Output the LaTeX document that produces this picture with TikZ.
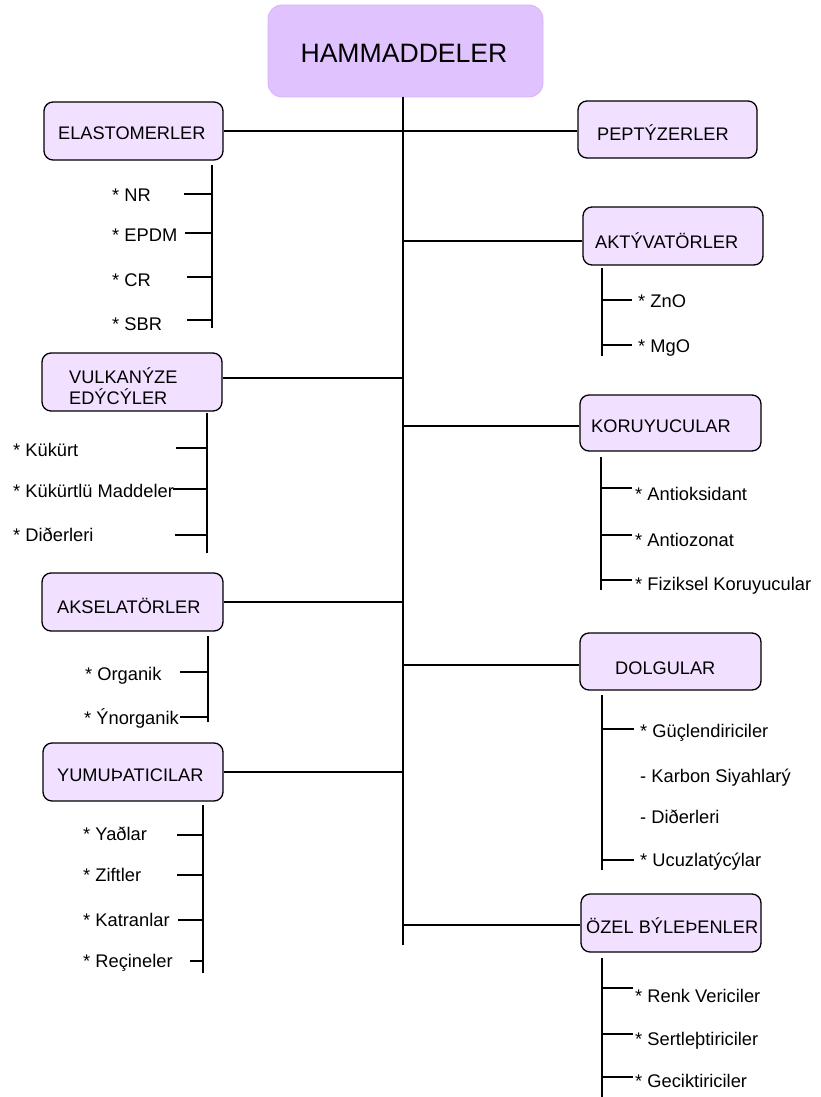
\documentclass[tikz,border=0pt]{standalone}
\usepackage{fontspec}
\setmainfont{Liberation Sans}
\definecolor{titlefill}{RGB}{224,194,255}
\definecolor{titleedge}{RGB}{214,180,246}
\definecolor{boxfill}{RGB}{241,224,255}
\begin{document}
\begin{tikzpicture}[x=1pt,y=-1pt,
  box/.style={draw=black, line width=1.3pt, fill=boxfill, rounded corners=9pt, inner sep=0pt},
  titlebox/.style={draw=titleedge, line width=0.8pt, fill=titlefill, rounded corners=14pt, inner sep=0pt},
  lbl/.style={inner sep=0pt, anchor=base west, font=\fontsize{18.2}{21}\selectfont},
  item/.style={inner sep=0pt, anchor=base west, font=\fontsize{18.3}{21}\selectfont},
  conn/.style={line width=1.4pt, black}]
\useasboundingbox (0,0) rectangle (820,1097);

% title
\node[titlebox, minimum width=275pt, minimum height=92pt] (title) at (405.5,51) {};
\node[inner sep=0pt, anchor=base, font=\fontsize{26.6}{30}\selectfont] (titletxt) at (404,63) {HAMMADDELER};

% main spine
\coordinate (mtop) at (403,97);
\coordinate (mbot) at (403,945);
\draw[conn] (mtop) -- (mbot);

% left boxes
\node[box, minimum width=179pt, minimum height=58pt] (elast) at (133.5,131) {};
\node[lbl] (elastl) at (58,139.5) {ELASTOMERLER};
\node[box, minimum width=180pt, minimum height=58pt] (vulk) at (132,382) {};
\node[lbl] (vulkl1) at (69,383) {VULKANÝZE};
\node[lbl] (vulkl2) at (69,404) {EDÝCÝLER};
\node[box, minimum width=181pt, minimum height=58pt] (aksel) at (132.5,602) {};
\node[lbl] (aksell) at (57,613) {AKSELATÖRLER};
\node[box, minimum width=180pt, minimum height=58pt] (yumu) at (133,772) {};
\node[lbl] (yumul) at (57,781) {YUMUÞATICILAR};

% right boxes
\node[box, minimum width=179pt, minimum height=57pt] (pept) at (667.5,129.5) {};
\node[lbl] (peptl) at (597,141) {PEPTÝZERLER};
\node[box, minimum width=180pt, minimum height=58pt] (aktiv) at (673,236) {};
\node[lbl] (aktivl) at (595,248) {AKTÝVATÖRLER};
\node[box, minimum width=181pt, minimum height=56pt] (koru) at (670.5,423) {};
\node[lbl] (korul) at (591,432) {KORUYUCULAR};
\node[box, minimum width=181pt, minimum height=57pt] (dolg) at (670.5,661.5) {};
\node[lbl] (dolgl) at (615,674) {DOLGULAR};
\node[box, minimum width=180pt, minimum height=58pt] (ozel) at (671,923) {};
\node[lbl] (ozell) at (586,933) {ÖZEL BÝLEÞENLER};

% branches from spine
\draw[conn] (elast.east) -- (elast.east -| pept.west);
\draw[conn] (vulk.east |- 0,378) -- (mtop |- 0,378);
\draw[conn] (aksel.east) -- (aksel.east -| mtop);
\draw[conn] (yumu.east) -- (yumu.east -| mtop);
\draw[conn] (mtop |- 0,241) -- (aktiv.west |- 0,241);
\draw[conn] (mtop |- 0,426) -- (koru.west |- 0,426);
\draw[conn] (mtop |- 0,665) -- (dolg.west |- 0,665);
\draw[conn] (mtop |- 0,925) -- (ozel.west |- 0,925);

% ELASTOMERLER list
\coordinate (ea) at (212,165); \coordinate (eb) at (212,328);
\draw[conn] (ea) -- (eb);
\node[item] (nr) at (112,201.5) {* NR};
\node[item] (epdm) at (112,241.5) {* EPDM};
\node[item] (cr) at (112,286.5) {* CR};
\node[item] (sbr) at (112,330) {* SBR};
\coordinate (t1) at (184,194); \draw[conn] (t1) -- (t1 -| ea);
\coordinate (t2) at (185,233); \draw[conn] (t2) -- (t2 -| ea);
\coordinate (t3) at (187,277); \draw[conn] (t3) -- (t3 -| ea);
\coordinate (t4) at (187,320); \draw[conn] (t4) -- (t4 -| ea);

% VULKANIZE list
\coordinate (va) at (207,413); \coordinate (vb) at (207,553);
\draw[conn] (va) -- (vb);
\node[item] (kuk) at (13,456) {* Kükürt};
\node[item] (kukm) at (13,497) {* Kükürtlü Maddeler};
\node[item] (vdig) at (13,541.5) {* Diðerleri};
\coordinate (t5) at (176,448); \draw[conn] (t5) -- (t5 -| va);
\coordinate (t6) at (173,489); \draw[conn] (t6) -- (t6 -| va);
\coordinate (t7) at (175,535); \draw[conn] (t7) -- (t7 -| va);

% AKSELATORLER list
\coordinate (aa) at (208,636); \coordinate (ab) at (208,722);
\draw[conn] (aa) -- (ab);
\node[item] (org) at (85,680) {* Organik};
\node[item] (inorg) at (84,724.5) {* Ýnorganik};
\coordinate (t8) at (180,672); \draw[conn] (t8) -- (t8 -| aa);
\coordinate (t9) at (180,717); \draw[conn] (t9) -- (t9 -| aa);

% YUMUSATICILAR list
\coordinate (ya) at (203,805); \coordinate (yb) at (203,973);
\draw[conn] (ya) -- (yb);
\node[item] (yag) at (83,840) {* Yaðlar};
\node[item] (zif) at (83,881.5) {* Ziftler};
\node[item] (kat) at (83,926.5) {* Katranlar};
\node[item] (rec) at (83,967) {* Reçineler};
\coordinate (t10) at (177,835); \draw[conn] (t10) -- (t10 -| ya);
\coordinate (t11) at (177,875); \draw[conn] (t11) -- (t11 -| ya);
\coordinate (t12) at (178,920); \draw[conn] (t12) -- (t12 -| ya);
\coordinate (t13) at (190,961); \draw[conn] (t13) -- (t13 -| ya);

% AKTIVATORLER list
\coordinate (ka) at (602,268); \coordinate (kb) at (602,356);
\draw[conn] (ka) -- (kb);
\node[item] (zno) at (638,307) {* ZnO};
\node[item] (mgo) at (638,352) {* MgO};
\coordinate (t14) at (632,300); \draw[conn] (ka |- t14) -- (t14);
\coordinate (t15) at (632,345); \draw[conn] (ka |- t15) -- (t15);

% KORUYUCULAR list
\coordinate (ra) at (601,457); \coordinate (rb) at (601,590);
\draw[conn] (ra) -- (rb);
\node[item] (aox) at (635,500) {* Antioksidant};
\node[item] (aoz) at (635,546) {* Antiozonat};
\node[item] (fiz) at (635,590) {* Fiziksel Koruyucular};
\coordinate (t16) at (632,488); \draw[conn] (ra |- t16) -- (t16);
\coordinate (t17) at (632,535); \draw[conn] (ra |- t17) -- (t17);
\coordinate (t18) at (632,580); \draw[conn] (ra |- t18) -- (t18);

% DOLGULAR list
\coordinate (da) at (602,695); \coordinate (db) at (602,870);
\draw[conn] (da) -- (db);
\node[item] (guc) at (640,737) {* Güçlendiriciler};
\node[item] (karb) at (640,782) {- Karbon Siyahlarý};
\node[item] (ddig) at (640,823) {- Diðerleri};
\node[item] (ucuz) at (640,866.5) {* Ucuzlatýcýlar};
\coordinate (t19) at (634,729); \draw[conn] (da |- t19) -- (t19);
\coordinate (t20) at (634,860); \draw[conn] (da |- t20) -- (t20);

% OZEL BILESENLER list
\coordinate (oa) at (602,958); \coordinate (ob) at (602,1097);
\draw[conn] (oa) -- (ob);
\node[item] (renk) at (635,1002.5) {* Renk Vericiler};
\node[item] (sert) at (635,1045) {* Sertleþtiriciler};
\node[item] (gec) at (635,1087) {* Geciktiriciler};
\coordinate (t21) at (633,988); \draw[conn] (oa |- t21) -- (t21);
\coordinate (t22) at (633,1034); \draw[conn] (oa |- t22) -- (t22);
\coordinate (t23) at (633,1077); \draw[conn] (oa |- t23) -- (t23);
\end{tikzpicture}
\end{document}
